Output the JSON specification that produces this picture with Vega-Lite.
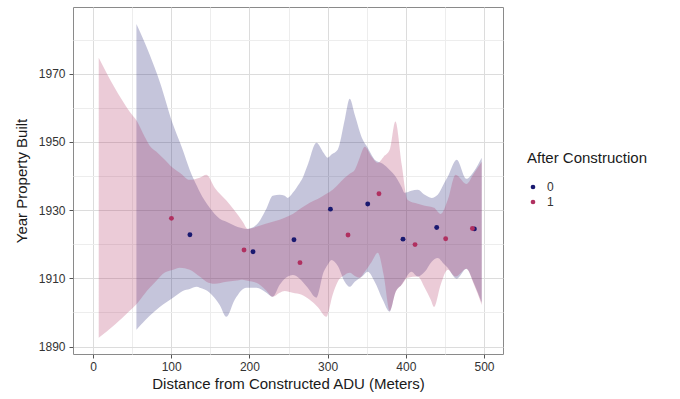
{
  "$schema": "https://vega.github.io/schema/vega-lite/v6.json",
  "width": 430,
  "height": 347,
  "autosize": {"type": "none"},
  "padding": {"left": 73, "top": 7, "right": 177, "bottom": 45},
  "background": "white",
  "datasets": {
    "ribbon0": [
      {"x": 55.5, "y": 1894.9, "hi": 1984.6},
      {"x": 72.5, "y": 1899.0, "hi": 1975.6},
      {"x": 85.3, "y": 1901.6, "hi": 1967.7},
      {"x": 102.3, "y": 1904.3, "hi": 1955.1},
      {"x": 114.7, "y": 1906.3, "hi": 1947.7},
      {"x": 123.7, "y": 1906.9, "hi": 1941.8},
      {"x": 132.6, "y": 1907.5, "hi": 1937.2},
      {"x": 136.4, "y": 1907.2, "hi": 1935.4},
      {"x": 149.2, "y": 1905.8, "hi": 1930.7},
      {"x": 162.0, "y": 1902.2, "hi": 1927.5},
      {"x": 170.6, "y": 1898.7, "hi": 1926.6},
      {"x": 181.2, "y": 1903.7, "hi": 1925.4},
      {"x": 196.2, "y": 1907.2, "hi": 1924.5},
      {"x": 209.0, "y": 1907.2, "hi": 1925.7},
      {"x": 221.7, "y": 1905.8, "hi": 1930.4},
      {"x": 229.8, "y": 1904.6, "hi": 1934.2},
      {"x": 238.7, "y": 1908.1, "hi": 1934.5},
      {"x": 245.1, "y": 1909.9, "hi": 1934.2},
      {"x": 249.0, "y": 1910.5, "hi": 1933.6},
      {"x": 255.4, "y": 1911.0, "hi": 1935.1},
      {"x": 264.3, "y": 1909.9, "hi": 1938.0},
      {"x": 266.9, "y": 1909.3, "hi": 1938.9},
      {"x": 274.6, "y": 1907.2, "hi": 1943.3},
      {"x": 285.7, "y": 1904.3, "hi": 1949.8},
      {"x": 295.0, "y": 1911.9, "hi": 1946.8},
      {"x": 300.1, "y": 1914.0, "hi": 1945.4},
      {"x": 304.9, "y": 1915.4, "hi": 1946.3},
      {"x": 312.9, "y": 1913.7, "hi": 1947.7},
      {"x": 321.9, "y": 1909.0, "hi": 1956.5},
      {"x": 328.3, "y": 1907.5, "hi": 1962.7},
      {"x": 334.7, "y": 1909.0, "hi": 1958.0},
      {"x": 344.9, "y": 1910.7, "hi": 1950.7},
      {"x": 351.3, "y": 1911.9, "hi": 1948.3},
      {"x": 360.2, "y": 1909.0, "hi": 1944.8},
      {"x": 370.5, "y": 1903.7, "hi": 1943.6},
      {"x": 379.4, "y": 1900.2, "hi": 1941.8},
      {"x": 387.1, "y": 1906.1, "hi": 1939.8},
      {"x": 394.4, "y": 1908.1, "hi": 1936.9},
      {"x": 398.6, "y": 1909.6, "hi": 1935.1},
      {"x": 407.2, "y": 1911.9, "hi": 1935.7},
      {"x": 415.2, "y": 1910.5, "hi": 1936.0},
      {"x": 424.2, "y": 1911.9, "hi": 1934.5},
      {"x": 433.1, "y": 1914.9, "hi": 1933.6},
      {"x": 440.8, "y": 1916.0, "hi": 1934.5},
      {"x": 448.5, "y": 1914.3, "hi": 1937.7},
      {"x": 453.6, "y": 1913.1, "hi": 1939.8},
      {"x": 465.1, "y": 1909.9, "hi": 1944.8},
      {"x": 477.5, "y": 1912.8, "hi": 1939.2},
      {"x": 486.8, "y": 1908.7, "hi": 1941.3},
      {"x": 497.1, "y": 1902.8, "hi": 1945.4}
    ],
    "ribbon1": [
      {"x": 7.3, "y": 1892.6, "hi": 1974.7},
      {"x": 27.7, "y": 1896.4, "hi": 1965.9},
      {"x": 46.9, "y": 1900.5, "hi": 1958.9},
      {"x": 55.9, "y": 1902.5, "hi": 1956.2},
      {"x": 66.1, "y": 1905.5, "hi": 1951.5},
      {"x": 72.5, "y": 1907.2, "hi": 1948.9},
      {"x": 81.1, "y": 1909.3, "hi": 1947.1},
      {"x": 89.1, "y": 1911.3, "hi": 1945.4},
      {"x": 102.3, "y": 1912.5, "hi": 1942.4},
      {"x": 110.9, "y": 1913.1, "hi": 1941.0},
      {"x": 123.7, "y": 1912.5, "hi": 1938.9},
      {"x": 136.4, "y": 1910.5, "hi": 1939.5},
      {"x": 145.0, "y": 1909.0, "hi": 1940.4},
      {"x": 155.6, "y": 1908.4, "hi": 1936.6},
      {"x": 170.6, "y": 1909.0, "hi": 1932.8},
      {"x": 181.2, "y": 1909.3, "hi": 1929.8},
      {"x": 191.4, "y": 1909.6, "hi": 1926.6},
      {"x": 197.8, "y": 1909.3, "hi": 1924.5},
      {"x": 209.0, "y": 1908.7, "hi": 1925.1},
      {"x": 220.8, "y": 1906.6, "hi": 1926.0},
      {"x": 229.8, "y": 1904.6, "hi": 1926.6},
      {"x": 238.7, "y": 1905.8, "hi": 1927.2},
      {"x": 245.1, "y": 1906.3, "hi": 1927.8},
      {"x": 255.4, "y": 1905.8, "hi": 1928.9},
      {"x": 266.9, "y": 1905.2, "hi": 1930.7},
      {"x": 277.1, "y": 1903.7, "hi": 1932.2},
      {"x": 287.3, "y": 1901.6, "hi": 1933.3},
      {"x": 298.5, "y": 1898.7, "hi": 1934.8},
      {"x": 306.5, "y": 1905.2, "hi": 1936.0},
      {"x": 312.9, "y": 1909.0, "hi": 1937.4},
      {"x": 321.9, "y": 1911.0, "hi": 1939.5},
      {"x": 328.3, "y": 1911.6, "hi": 1940.7},
      {"x": 334.7, "y": 1910.7, "hi": 1941.8},
      {"x": 341.1, "y": 1910.2, "hi": 1945.4},
      {"x": 347.5, "y": 1911.9, "hi": 1948.6},
      {"x": 356.4, "y": 1914.9, "hi": 1945.7},
      {"x": 364.1, "y": 1917.5, "hi": 1943.9},
      {"x": 371.7, "y": 1911.0, "hi": 1945.7},
      {"x": 379.4, "y": 1900.5, "hi": 1947.7},
      {"x": 386.7, "y": 1905.8, "hi": 1956.0},
      {"x": 394.8, "y": 1908.1, "hi": 1943.3},
      {"x": 402.4, "y": 1910.2, "hi": 1933.0},
      {"x": 415.2, "y": 1910.5, "hi": 1931.9},
      {"x": 424.2, "y": 1907.2, "hi": 1931.3},
      {"x": 431.9, "y": 1903.7, "hi": 1931.0},
      {"x": 436.1, "y": 1901.6, "hi": 1930.7},
      {"x": 444.6, "y": 1908.1, "hi": 1928.9},
      {"x": 453.6, "y": 1912.5, "hi": 1933.0},
      {"x": 463.8, "y": 1910.5, "hi": 1940.4},
      {"x": 477.5, "y": 1912.8, "hi": 1937.7},
      {"x": 486.8, "y": 1908.4, "hi": 1940.7},
      {"x": 497.1, "y": 1902.2, "hi": 1944.2}
    ],
    "points": [
      {"g": "0", "x": 123.9, "y": 1922.8},
      {"g": "0", "x": 204.6, "y": 1917.8},
      {"g": "0", "x": 257.0, "y": 1921.3},
      {"g": "0", "x": 303.6, "y": 1930.3},
      {"g": "0", "x": 351.3, "y": 1931.8},
      {"g": "0", "x": 396.4, "y": 1921.5},
      {"g": "0", "x": 439.5, "y": 1924.9},
      {"g": "0", "x": 487.7, "y": 1924.5},
      {"g": "1", "x": 100.3, "y": 1927.6},
      {"g": "1", "x": 193.1, "y": 1918.3},
      {"g": "1", "x": 264.7, "y": 1914.6},
      {"g": "1", "x": 326.1, "y": 1922.7},
      {"g": "1", "x": 365.7, "y": 1934.8},
      {"g": "1", "x": 411.8, "y": 1919.9},
      {"g": "1", "x": 451.0, "y": 1921.6},
      {"g": "1", "x": 485.2, "y": 1924.6}
    ]
  },
  "encoding": {
    "x": {
      "field": "x",
      "type": "quantitative",
      "scale": {"domain": [-25.6, 524.3], "nice": false, "zero": false},
      "axis": {
        "title": "Distance from Constructed ADU (Meters)",
        "values": [0, 50, 100, 150, 200, 250, 300, 350, 400, 450, 500],
        "labelExpr": "datum.value % 100 === 0 ? datum.label : ''",
        "tickOpacity": {"condition": {"test": "datum.value % 100 !== 0", "value": 0}, "value": 1},
        "gridColor": {"condition": {"test": "datum.value % 100 !== 0", "value": "#ededed"}, "value": "#dcdcdc"},
        "labelPadding": 3,
        "titlePadding": 4
      }
    },
    "y": {
      "field": "y",
      "type": "quantitative",
      "scale": {"domain": [1887.8, 1989.6], "nice": false, "zero": false},
      "axis": {
        "title": "Year Property Built",
        "format": "d",
        "values": [1890, 1900, 1910, 1920, 1930, 1940, 1950, 1960, 1970, 1980],
        "labelExpr": "datum.value % 20 === 10 ? datum.label : ''",
        "tickOpacity": {"condition": {"test": "datum.value % 20 !== 10", "value": 0}, "value": 1},
        "gridColor": {"condition": {"test": "datum.value % 20 !== 10", "value": "#ededed"}, "value": "#dcdcdc"},
        "labelPadding": 4,
        "titlePadding": 9
      }
    }
  },
  "layer": [
    {
      "data": {"name": "ribbon0"},
      "mark": {"type": "area", "fill": "#191970", "fillOpacity": 0.25, "strokeWidth": 0, "interpolate": "monotone"},
      "encoding": {"y2": {"field": "hi"}}
    },
    {
      "data": {"name": "ribbon1"},
      "mark": {"type": "area", "fill": "#b03060", "fillOpacity": 0.25, "strokeWidth": 0, "interpolate": "monotone"},
      "encoding": {"y2": {"field": "hi"}}
    },
    {
      "data": {"name": "points"},
      "mark": {"type": "point", "filled": true, "shape": "circle", "size": 24, "opacity": 1},
      "encoding": {
        "color": {
          "field": "g",
          "type": "nominal",
          "scale": {"domain": ["0", "1"], "range": ["#191970", "#b03060"]},
          "legend": {"title": "After Construction"}
        }
      }
    }
  ],
  "config": {
    "font": "Liberation Sans",
    "view": {"stroke": "#8a8a8a", "strokeWidth": 1},
    "axis": {
      "domain": false,
      "tickColor": "#555555",
      "tickSize": 4,
      "labelFont": "Liberation Sans",
      "labelFontSize": 12,
      "labelColor": "#333333",
      "titleFont": "Liberation Sans",
      "titleFontSize": 15,
      "titleFontWeight": "normal",
      "titleColor": "#1a1a1a",
      "gridWidth": 1
    },
    "legend": {
      "orient": "none",
      "legendX": 454,
      "legendY": 144,
      "titleFont": "Liberation Sans",
      "titleFontSize": 15,
      "titleFontWeight": "normal",
      "titleColor": "#1a1a1a",
      "titlePadding": 15,
      "labelFont": "Liberation Sans",
      "labelFontSize": 12,
      "labelColor": "#333333",
      "symbolSize": 22,
      "symbolType": "circle",
      "rowPadding": 3,
      "labelOffset": 8
    }
  }
}
